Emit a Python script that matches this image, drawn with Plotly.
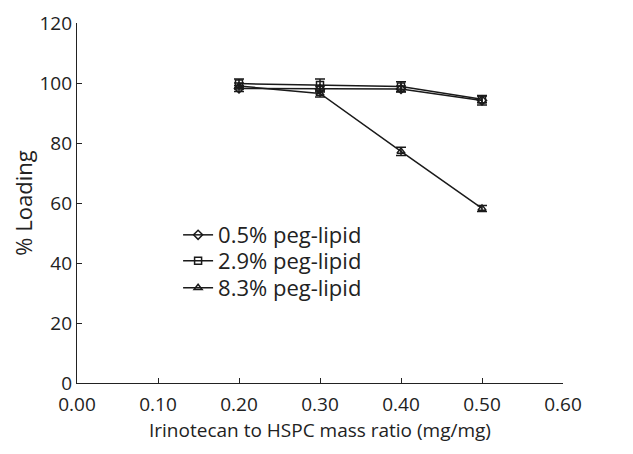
import plotly.graph_objects as go

ratio = [0.20, 0.30, 0.40, 0.50]
peg05 = [98.2, 98.0, 98.0, 94.2]
peg05_err = [1.0, 1.0, 1.0, 1.5]
peg29 = [99.8, 99.3, 98.8, 94.6]
peg29_err = [1.5, 2.0, 1.6, 1.2]
peg83 = [99.0, 96.5, 77.2, 58.2]
peg83_err = [1.0, 1.2, 1.4, 1.0]

names = ["0.5% peg-lipid", "2.9% peg-lipid", "8.3% peg-lipid"]
series = [peg05, peg29, peg83]
errs = [peg05_err, peg29_err, peg83_err]
symbols = ["diamond-open", "square-open", "triangle-up-open"]
legend_ids = ["legend", "legend2", "legend3"]
legend_y = [0.411, 0.339, 0.264]

fig = go.Figure()
for nm, ys, er, sym, lg in zip(names, series, errs, symbols, legend_ids):
    fig.add_trace(go.Scatter(
        x=ratio, y=ys, name=nm, mode="lines+markers", legend=lg,
        line=dict(color="#1a1a1a", width=1.5),
        marker=dict(symbol=sym, size=7, color="#1a1a1a", line=dict(width=1.5, color="#1a1a1a")),
        error_y=dict(type="data", array=er, visible=True, color="#1a1a1a", thickness=1.5, width=5),
    ))

fam = "Open Sans, Noto Sans, sans-serif"
leg_common = dict(x=0.208, xanchor="left", yanchor="middle",
                  bgcolor="rgba(0,0,0,0)", font=dict(family=fam, size=22, color="#222222"),
                  itemwidth=30)
fig.update_layout(
    width=633, height=454,
    margin=dict(l=69, r=78, t=15, b=79, autoexpand=False),
    paper_bgcolor="white", plot_bgcolor="white",
    font=dict(family=fam, size=19, color="#222222"),
    showlegend=True,
    legend=dict(y=legend_y[0], **leg_common),
    legend2=dict(y=legend_y[1], **leg_common),
    legend3=dict(y=legend_y[2], **leg_common),
    xaxis=dict(range=[0, 0.6], tickvals=[0, 0.1, 0.2, 0.3, 0.4, 0.5, 0.6],
               ticktext=["0.00", "0.10", "0.20", "0.30", "0.40", "0.50", "0.60"],
               showline=True, linecolor="#222222", linewidth=1.2, ticks="inside",
               ticklen=5, tickcolor="#222222", showgrid=False, zeroline=False,
               ticklabelstandoff=4,
               title=dict(text="Irinotecan to HSPC mass ratio (mg/mg)", standoff=5,
                          font=dict(family=fam, size=19, color="#222222"))),
    yaxis=dict(range=[0, 120], tickvals=[0, 20, 40, 60, 80, 100, 120],
               showline=True, linecolor="#222222", linewidth=1.2, ticks="inside",
               ticklen=5, tickcolor="#222222", showgrid=False, zeroline=False,
               title=dict(text="% Loading", standoff=6,
                          font=dict(family=fam, size=22, color="#222222"))),
)
fig.write_html("out.html")
